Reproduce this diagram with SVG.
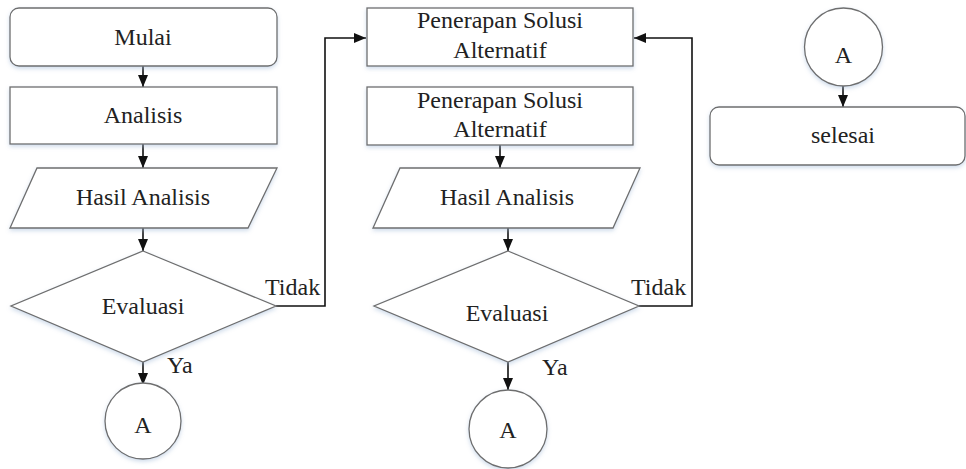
<svg xmlns="http://www.w3.org/2000/svg" width="966" height="469" viewBox="0 0 966 469" font-family="Liberation Serif, serif" font-size="24">
<defs>
<marker id="arr" viewBox="0 0 12 10" refX="12" refY="5" markerWidth="12" markerHeight="10" markerUnits="userSpaceOnUse" orient="auto">
<path d="M0,0 L12,5 L0,10 z" fill="#111"/>
</marker>
<filter id="sh" x="-10%" y="-20%" width="120%" height="150%">
<feGaussianBlur in="SourceAlpha" stdDeviation="2"/>
<feOffset dx="0" dy="2" result="b"/>
<feFlood flood-color="#9fb8d6" flood-opacity="0.5"/>
<feComposite in2="b" operator="in"/>
<feMerge><feMergeNode/><feMergeNode in="SourceGraphic"/></feMerge>
</filter>
</defs>
<style>
.s{fill:#fff;stroke:#6e6e6e;stroke-width:1.3;filter:url(#sh)}
text{fill:#222}
.t{text-anchor:middle}
.c{fill:none;stroke:#111;stroke-width:1.6;marker-end:url(#arr)}
</style>
<rect width="966" height="469" fill="#fff"/>
<g id="connectors">
<path class="c" d="M143,66 V87"/>
<path class="c" d="M143,144 V168"/>
<path class="c" d="M143,228 V251"/>
<path class="c" d="M276,306 H325 V38 H366"/>
<path class="c" d="M143,362 V385"/>
<path class="c" d="M500,145 V168"/>
<path class="c" d="M508,228 V251"/>
<path class="c" d="M639,306 H692 V38 H634"/>
<path class="c" d="M508,362 V390"/>
<path class="c" d="M843,86 V107"/>
</g>
<g id="mulai"><rect class="s" x="10" y="8" width="267" height="58" rx="9"/><text class="t" x="143" y="45">Mulai</text></g>
<g id="analisis"><rect class="s" x="10" y="87" width="267" height="57"/><text class="t" x="143" y="123">Analisis</text></g>
<g id="hasil1"><polygon class="s" points="37,168 277,168 248,228 10,228"/><text class="t" x="143" y="205">Hasil Analisis</text></g>
<g id="eval1"><polygon class="s" points="143,251 276,306 143,362 11,306"/><text class="t" x="143" y="314">Evaluasi</text></g>
<g id="a1"><circle class="s" cx="143" cy="421" r="38"/><text class="t" x="143" y="433">A</text></g>
<g id="solusi1"><rect class="s" x="367" y="8" width="266" height="58"/><text class="t" x="500" y="28">Penerapan Solusi</text><text class="t" x="500" y="58">Alternatif</text></g>
<g id="solusi2"><rect class="s" x="367" y="87" width="266" height="58"/><text class="t" x="500" y="108">Penerapan Solusi</text><text class="t" x="500" y="137">Alternatif</text></g>
<g id="hasil2"><polygon class="s" points="400,168 640,168 613,228 373,228"/><text class="t" x="507" y="205">Hasil Analisis</text></g>
<g id="eval2"><polygon class="s" points="508,251 639,306 508,362 374,306"/><text class="t" x="507" y="321">Evaluasi</text></g>
<g id="a2"><circle class="s" cx="508" cy="429" r="39"/><text class="t" x="508" y="438">A</text></g>
<g id="a3"><circle class="s" cx="843.5" cy="47" r="39"/><text class="t" x="843.5" y="63">A</text></g>
<g id="selesai"><rect class="s" x="710" y="107" width="255" height="58" rx="9"/><text class="t" x="843" y="143">selesai</text></g>
<g id="labels">
<text x="265" y="295">Tidak</text>
<text x="167" y="373">Ya</text>
<text x="631" y="295">Tidak</text>
<text x="542" y="375">Ya</text>
</g>
</svg>
